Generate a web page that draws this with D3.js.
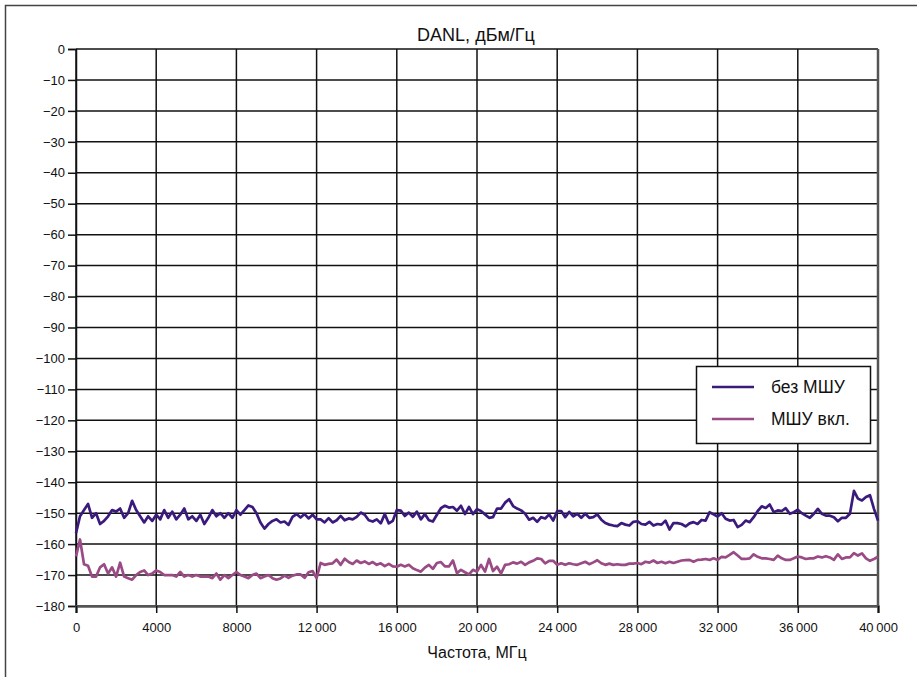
<!DOCTYPE html>
<html>
<head>
<meta charset="utf-8">
<script src="https://cdn.jsdelivr.net/npm/d3@7"></script>
<style>
  body { margin: 0; background: #fff; }
  svg { display: block; font-family: 'Liberation Sans', Arial, sans-serif; }
</style>
</head>
<body>
<div id="chart"></div>
<script>
// DANL chart: noise level with and without the LNA (МШУ)
const freqStep = 200
const freqs = d3.range(0, 40000 + freqStep, freqStep) // МГц

// без МШУ, дБм/Гц, one value per 200 MHz
const withoutLna = [
  -156.5, -151, -149, -147, -151.5, -150, -153.5, -152.5, -151, -149,
  -149.5, -148.5, -151.5, -150, -146, -149, -151, -153, -151, -152.5,
  -150.5, -152, -149, -151.5, -149.5, -152, -150.5, -148.5, -152, -151,
  -152.5, -150.5, -153.5, -151.5, -149, -151, -150, -151.5, -150, -151.5,
  -149, -150.5, -149, -147.5, -148, -150, -153, -155, -153.5, -152.5,
  -152,
  -153, -152.7, -153.8, -151.2, -150.3, -151.4, -150.3, -151.7, -150.5, -152,
  -152, -153, -151.6, -153, -152.3, -150.9, -152.3, -151.7, -152, -151.2,
  -149.8, -150.5, -152.3, -152.7, -152, -153.3, -150.3, -153.3, -152.5, -149,
  -149.2, -150.9, -149.8, -151.2, -149.5, -152, -150.3, -152.3, -152.7, -150.5,
  -148.4, -147.6, -148.2, -148, -149.2, -147.6, -150.3, -148, -150.3, -148.7,
  -149.3, -150.4, -151.5, -151.3, -148.5, -148.5, -146.6, -145.5, -147.7, -148.5,
  -149.1, -150.2, -152.1, -151.5, -152.8, -151.3, -151.7, -150.4, -152.4, -149.3,
  -149.3, -151.3, -149.6, -151, -150.2, -151.5, -150.2, -151.5, -151.3, -150.4,
  -152.1, -153.2, -153.7, -154, -154.2, -153.2, -153.7, -154, -152.8, -152.6,
  -153.5, -153.7, -152.8, -154, -153.5, -153.7, -152.4, -155.3, -153.2, -153.2,
  -153.5, -154.3, -153.3, -152.9, -153.5, -152.2, -152.4, -149.7, -150.4, -151.1,
  -150, -151.8, -152.4, -152.2, -154.5, -153.8, -152.4, -152.9, -151.3, -149.3,
  -147.8, -148.3, -147.2, -149.7, -149.1, -149.3, -148.4, -150.2, -149.7, -148.9,
  -150, -150.8, -151.5, -150.2, -148.6, -150.2, -150.8, -150.8, -151.3, -152.6,
  -151.5, -151.5, -150.2, -142.8, -145.3, -145.9, -144.8, -144.2, -148.6, -152.4,
]

// МШУ вкл., дБм/Гц, one value per 200 MHz
const withLna = [
  -164, -158.5, -166.5, -167, -170.5, -170.5, -167.5, -166.5, -169.5, -167.5,
  -170.5, -166, -170.5, -171, -171.5, -170, -169, -168.5, -170, -169.5,
  -168.5, -169, -170, -170, -170, -170.5, -169, -170.5, -170, -170.5,
  -170, -170.5, -170.5, -170.5, -171, -169.5, -171.5, -170, -171, -170,
  -169, -170, -170.5, -171, -170, -169.5, -171, -170.5, -170, -171,
  -171.5,
  -171.1, -170.2, -170.9, -170.2, -169.8, -169.8, -170.9, -169.1, -168.7, -171,
  -166.1, -166.7, -166.4, -166.2, -165, -166.7, -164.7, -165.8, -166.4, -165.3,
  -166.1, -165.6, -166.4, -165.8, -166.7, -166.2, -167.1, -166.4, -167.2, -167.3,
  -166.7, -167.2, -166.7, -167.8, -168.4, -168.9, -167.6, -166.7, -168, -166.1,
  -165.8, -167.2, -167.2, -165.3, -169.4, -168.3, -169.1, -169.8, -168.3, -168.9,
  -166.7, -168.9, -164.8, -168.7, -167.3, -169.5, -166.7, -166.5, -165.9, -166.3,
  -165.7, -166.7, -165.9, -165.4, -164.6, -164.8, -166.2, -165.4, -165.4, -166.7,
  -166.2, -166.7, -166.2, -166.5, -166.7, -166.2, -165.7, -166.5, -165.9, -165.2,
  -166.2, -166.7, -166.3, -166.7, -166.5, -166.7, -166.7, -166.3, -166.3, -166.1,
  -166.5, -165.7, -166, -165.3, -166.1, -165.7, -166.2, -165.7, -166.1, -165.7,
  -165.3, -165.2, -165.1, -165.7, -165.1, -165, -164.8, -165.1, -164.6, -165.1,
  -164.1, -164.3, -163.5, -162.6, -163.7, -164.8, -164.8, -164.6, -163.3, -164.1,
  -164.6, -164.6, -164.8, -165.1, -163.7, -164.6, -165.1, -165.1, -164.6, -164,
  -164.3, -164.8, -164.6, -164.6, -164, -164.3, -163.9, -164.3, -165.1, -163.3,
  -164.8, -164.3, -164.3, -162.9, -163.7, -163, -164.6, -165.4, -164.8, -164.1,
]

const seriesNames = ['без МШУ', 'МШУ вкл.']
const seriesColors = ['#3b1a7d', '#9a4a84']
const xTicks = d3.range(0, 40001, 4000)
const yTicks = d3.range(0, -181, -10)

const width = 917
const height = 677
const margin = { top: 49, right: 39, bottom: 71, left: 76 }
const innerWidth = width - margin.left - margin.right
const innerHeight = height - margin.top - margin.bottom

const svg = d3
  .select('#chart')
  .append('svg')
  .attr('width', width)
  .attr('height', height)

// outer frame: only its left and top edges are inside the picture
svg
  .append('path')
  .attr('d', `M5.5,${height}V5.5H${width}`)
  .attr('fill', 'none')
  .attr('stroke', '#444')
  .attr('stroke-width', 1.5)

const g = svg
  .append('g')
  .attr('transform', `translate(${margin.left},${margin.top})`)

const xScale = d3.scaleLinear().domain([0, 40000]).range([0, innerWidth])
const yScale = d3.scaleLinear().domain([-180, 0]).range([innerHeight, 0])

// grid
g.append('g')
  .selectAll('line')
  .data(yTicks)
  .join('line')
  .attr('x1', 0)
  .attr('x2', innerWidth)
  .attr('y1', (d) => yScale(d))
  .attr('y2', (d) => yScale(d))
  .attr('stroke', '#111')
  .attr('stroke-width', 1.5)

g.append('g')
  .selectAll('line')
  .data(xTicks)
  .join('line')
  .attr('x1', (d) => xScale(d))
  .attr('x2', (d) => xScale(d))
  .attr('y1', 0)
  .attr('y2', innerHeight)
  .attr('stroke', '#111')
  .attr('stroke-width', 1.5)

// right frame line is grey and a little heavier
g.append('line')
  .attr('x1', innerWidth)
  .attr('x2', innerWidth)
  .attr('y1', 0)
  .attr('y2', innerHeight)
  .attr('stroke', '#555')
  .attr('stroke-width', 2.5)

// axes
const fmtX = (d) => (d >= 10000 ? d3.format(',')(d).replace(',', '\u2009') : String(d))
const fmtY = (d) => (d < 0 ? '\u2212' + Math.abs(d) : String(d))

const yAxis = g
  .append('g')
  .call(d3.axisLeft(yScale).tickValues(yTicks).tickFormat(fmtY).tickSize(8).tickPadding(3))
yAxis.select('.domain').attr('stroke', '#111').attr('stroke-width', 1.5)
yAxis.selectAll('.tick line').attr('stroke', '#111').attr('stroke-width', 1.5)
yAxis
  .selectAll('.tick text')
  .attr('font-size', 13)
  .attr('font-family', "'Liberation Sans', Arial, sans-serif")
  .attr('fill', '#111')

const xAxis = g
  .append('g')
  .attr('transform', `translate(0,${innerHeight})`)
  .call(d3.axisBottom(xScale).tickValues(xTicks).tickFormat(fmtX).tickSize(7).tickPadding(10))
xAxis.select('.domain').attr('stroke', '#555').attr('stroke-width', 2.5)
xAxis.selectAll('.tick line').attr('stroke', '#111').attr('stroke-width', 1.5)
xAxis
  .selectAll('.tick text')
  .attr('font-size', 13)
  .attr('font-family', "'Liberation Sans', Arial, sans-serif")
  .attr('fill', '#111')

// series
const line = d3
  .line()
  .x((d) => xScale(d[0]))
  .y((d) => yScale(d[1]))

;[withoutLna, withLna].forEach((values, i) => {
  g.append('path')
    .datum(freqs.map((f, j) => [f, values[j]]))
    .attr('fill', 'none')
    .attr('stroke', seriesColors[i])
    .attr('stroke-width', 2.7)
    .attr('stroke-linejoin', 'round')
    .attr('d', line)
})

// titles
svg
  .append('text')
  .attr('x', 476)
  .attr('y', 41)
  .attr('text-anchor', 'middle')
  .attr('font-size', 18)
  .attr('fill', '#111')
  .text('DANL, дБм/Гц')

svg
  .append('text')
  .attr('x', 477)
  .attr('y', 658)
  .attr('text-anchor', 'middle')
  .attr('font-size', 16)
  .attr('fill', '#111')
  .text('Частота, МГц')

// legend
const legend = svg.append('g').attr('transform', 'translate(696,366)')
legend
  .append('rect')
  .attr('x', 0.5)
  .attr('y', 0.5)
  .attr('width', 174)
  .attr('height', 77)
  .attr('fill', '#fff')
  .attr('stroke', '#111')
  .attr('stroke-width', 1.5)

seriesNames.forEach((name, i) => {
  const ly = 21 + i * 32
  legend
    .append('line')
    .attr('x1', 16)
    .attr('x2', 58)
    .attr('y1', ly)
    .attr('y2', ly)
    .attr('stroke', seriesColors[i])
    .attr('stroke-width', 2.7)
  legend
    .append('text')
    .attr('x', 75)
    .attr('y', ly + 6)
    .attr('font-size', 17.5)
    .attr('fill', '#111')
    .text(name)
})
</script>
</body>
</html>
